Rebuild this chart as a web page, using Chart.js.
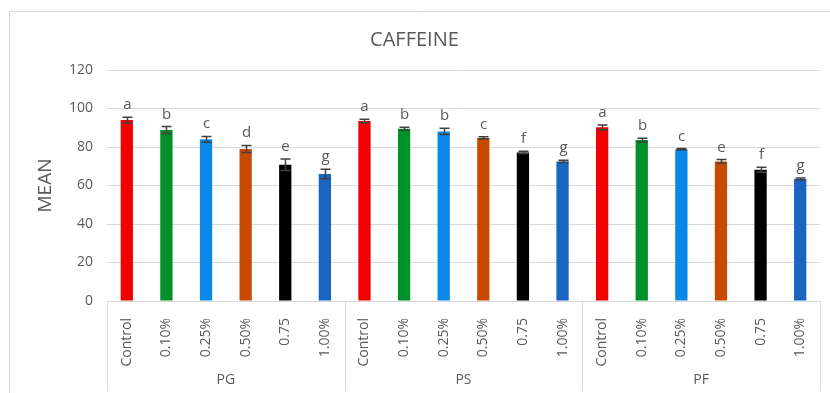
<!DOCTYPE html>
<html>
<head>
<meta charset="utf-8">
<script src="https://cdn.jsdelivr.net/npm/chart.js@4"></script>
<style>
  html, body { margin: 0; padding: 0; background: #ffffff; }
  canvas { display: block; }
</style>
</head>
<body>
<canvas id="chart" width="830" height="393"></canvas>
<script>
// Treatment groups and concentration levels
const groups = ['PG', 'PS', 'PF'];
const levels = ['Control', '0.10%', '0.25%', '0.50%', '0.75', '1.00%'];

// Mean caffeine per level, one array per group
const pgMeans = [94.0, 88.8, 84.0, 79.0, 70.8, 66.0];
const psMeans = [93.5, 89.5, 88.1, 84.7, 77.2, 72.5];
const pfMeans = [90.2, 83.6, 78.8, 72.5, 68.2, 63.4];

// Error bar half-lengths
const pgErr = [1.5, 1.8, 1.5, 1.8, 3.0, 2.5];
const psErr = [0.9, 0.8, 1.6, 0.6, 0.6, 0.6];
const pfErr = [1.2, 1.0, 0.4, 1.0, 1.3, 0.5];

// Significance letters
const pgLetters = ['a', 'b', 'c', 'd', 'e', 'g'];
const psLetters = ['a', 'b', 'b', 'c', 'f', 'g'];
const pfLetters = ['a', 'b', 'c', 'e', 'f', 'g'];

// Y axis ticks
const yTicks = [0, 20, 40, 60, 80, 100, 120];

const levelColors = ['#F20000', '#00912B', '#0A88E8', '#C84A00', '#000000', '#1A64C2'];

const labels = [...levels, ...levels, ...levels];
const means = [...pgMeans, ...psMeans, ...pfMeans];
const errs = [...pgErr, ...psErr, ...pfErr];
const letters = [...pgLetters, ...psLetters, ...pfLetters];
const colors = [...levelColors, ...levelColors, ...levelColors];

const FONT = "'Open Sans', sans-serif";
const TEXT = '#595959';
const LINE = '#d9d9d9';

// Outer frame of the chart box
const framePlugin = {
  id: 'frame',
  beforeDraw(chart) {
    const ctx = chart.ctx;
    ctx.save();
    ctx.strokeStyle = LINE;
    ctx.lineWidth = 1;
    ctx.beginPath();
    ctx.moveTo(9.5, chart.height + 2);
    ctx.lineTo(9.5, 11.5);
    ctx.lineTo(chart.width + 2, 11.5);
    ctx.stroke();
    ctx.restore();
  }
};

// Error bars and letter labels above each bar
const errorPlugin = {
  id: 'errorLetters',
  afterDatasetsDraw(chart) {
    const ctx = chart.ctx;
    const y = chart.scales.y;
    const meta = chart.getDatasetMeta(0);
    ctx.save();
    meta.data.forEach((bar, i) => {
      const x = Math.round(bar.x) + 0.5;
      const top = y.getPixelForValue(means[i] + errs[i]);
      const bot = y.getPixelForValue(means[i] - errs[i]);
      ctx.strokeStyle = '#404040';
      ctx.lineWidth = 1.5;
      ctx.beginPath();
      ctx.moveTo(x, top); ctx.lineTo(x, bot);
      ctx.moveTo(x - 5, top); ctx.lineTo(x + 5, top);
      ctx.moveTo(x - 5, bot); ctx.lineTo(x + 5, bot);
      ctx.stroke();
      ctx.fillStyle = TEXT;
      ctx.font = '15px ' + FONT;
      ctx.textAlign = 'center';
      ctx.textBaseline = 'alphabetic';
      ctx.fillText(letters[i], x, top - 8);
    });
    ctx.restore();
  }
};

// Group separators and group names under the category labels
const groupPlugin = {
  id: 'groupAxis',
  afterDraw(chart) {
    const ctx = chart.ctx;
    const x = chart.scales.x;
    const area = chart.chartArea;
    const n = levels.length;
    const bounds = [area.left];
    for (let g = 1; g < groups.length; g++) {
      bounds.push((x.getPixelForValue(g * n - 1) + x.getPixelForValue(g * n)) / 2);
    }
    bounds.push(area.right);
    ctx.save();
    ctx.strokeStyle = LINE;
    ctx.lineWidth = 1;
    ctx.beginPath();
    bounds.forEach(b => {
      const bx = Math.round(b) + 0.5;
      ctx.moveTo(bx, area.bottom);
      ctx.lineTo(bx, area.bottom + 90);
    });
    ctx.stroke();
    ctx.fillStyle = TEXT;
    ctx.font = '14px ' + FONT;
    ctx.textAlign = 'center';
    ctx.textBaseline = 'middle';
    groups.forEach((name, g) => {
      ctx.fillText(name, (bounds[g] + bounds[g + 1]) / 2, area.bottom + 79);
    });
    ctx.restore();
  }
};

new Chart(document.getElementById('chart'), {
  type: 'bar',
  data: {
    labels: labels,
    datasets: [{
      data: means,
      backgroundColor: colors,
      borderWidth: 0,
      categoryPercentage: 1.0,
      barPercentage: 0.31
    }]
  },
  options: {
    responsive: false,
    animation: false,
    devicePixelRatio: 1,
    layout: { padding: { left: 9, right: 10, top: 0, bottom: 0 } },
    plugins: {
      legend: { display: false },
      tooltip: { enabled: false },
      title: {
        display: true,
        text: 'CAFFEINE',
        color: TEXT,
        font: { family: FONT, size: 20, weight: 'normal' },
        padding: { top: 28, bottom: 18 }
      }
    },
    scales: {
      x: {
        grid: { display: false },
        border: { display: false },
        ticks: {
          color: TEXT,
          font: { family: FONT, size: 14 },
          minRotation: 90,
          maxRotation: 90,
          autoSkip: false,
          padding: 9
        },
        afterFit(scale) { scale.height = 92; }
      },
      y: {
        min: 0,
        max: 120,
        afterBuildTicks(scale) { scale.ticks = yTicks.map(v => ({ value: v })); },
        grid: { color: LINE, drawTicks: false, lineWidth: 1 },
        border: { display: false },
        ticks: {
          color: TEXT,
          font: { family: FONT, size: 14 },
          padding: 14
        },
        title: {
          display: true,
          text: 'MEAN',
          color: TEXT,
          font: { family: FONT, size: 19, weight: 'normal' },
          padding: { top: 25, bottom: 0 }
        },
        afterFit(scale) { scale.width = 98; }
      }
    }
  },
  plugins: [framePlugin, errorPlugin, groupPlugin]
});
</script>
</body>
</html>
